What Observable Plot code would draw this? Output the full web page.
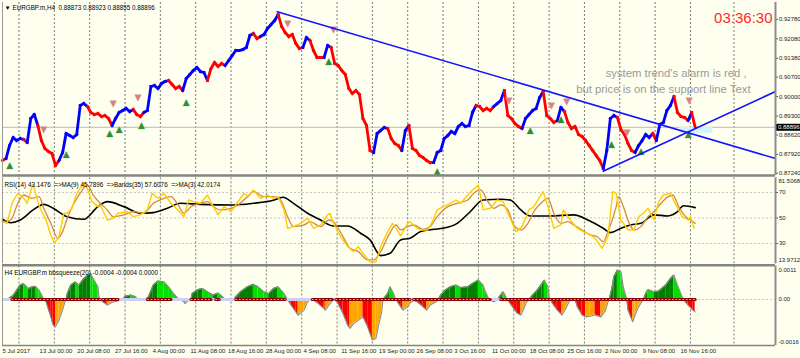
<!DOCTYPE html>
<html><head><meta charset="utf-8">
<script src="https://cdn.jsdelivr.net/npm/d3@7"></script>
<script src="https://cdn.jsdelivr.net/npm/@observablehq/plot@0.6"></script>
<style>
html,body{margin:0;padding:0;background:#fffff0;}
#chart{position:relative;width:800px;height:358px;background:#fffff0;overflow:hidden;}
#chart svg{position:absolute;left:0;overflow:visible;}
</style></head><body><div id="chart"></div>
<script>
// ---------- DATA ----------
// H4 closes, one value every 3 bars (bar index = 3*i)
const closePrices = [0.8770,0.87772,0.8824,0.88528,0.8842,0.88492,0.88456,0.88348,0.89212,0.89356,
0.8896,0.8842,0.88132,0.88024,0.87952,0.8752,0.877,0.87988,0.88672,0.886,
0.88528,0.88636,0.8968,0.89752,0.89644,0.89428,0.89356,0.89392,0.89284,0.8932,
0.89212,0.8896,0.89212,0.89428,0.895,0.89572,0.89464,0.89536,0.89356,0.89284,
0.89428,0.895,0.90364,0.904,0.90292,0.90472,0.90544,0.9058,0.90436,0.90292,
0.90364,0.9022,0.90652,0.90796,0.9094,0.91048,0.90904,0.90868,0.9058,0.91012,
0.91228,0.91084,0.91192,0.9112,0.913,0.9148,0.9166,0.9166,0.91696,0.91768,
0.922,0.92272,0.92092,0.92164,0.92236,0.92452,0.92596,0.9274,0.92956,0.92524,
0.92308,0.92164,0.92236,0.91912,0.91732,0.91768,0.92128,0.9202,0.9166,0.91408,
0.91408,0.91408,0.9184,0.91768,0.91192,0.9112,0.9094,0.90796,0.90292,0.90112,
0.9022,0.90076,0.89212,0.8896,0.8806,0.87988,0.88672,0.8878,0.88888,0.88852,
0.88492,0.88312,0.8824,0.8806,0.8878,0.8896,0.88132,0.8806,0.8788,0.87808,
0.877,0.87628,0.87628,0.87988,0.8806,0.88492,0.886,0.88744,0.88672,0.88924,
0.89032,0.88924,0.8896,0.89428,0.8968,0.89644,0.895,0.89572,0.895,0.89644,
0.89752,0.8986,0.9022,0.8932,0.89212,0.89032,0.88924,0.88852,0.89212,0.89356,
0.895,0.89572,0.89968,0.90184,0.8932,0.89212,0.89068,0.8914,0.89608,0.89464,
0.89068,0.88852,0.88924,0.88636,0.88564,0.8842,0.8824,0.8806,0.8788,0.877,
0.87412,0.8806,0.89212,0.8932,0.89248,0.88816,0.88636,0.88312,0.8806,0.87988,
0.8824,0.8842,0.88636,0.88528,0.88672,0.8842,0.88996,0.89068,0.895,0.8968,
0.90004,0.89428,0.89284,0.89248,0.8914,0.89428,0.88896];
// trend state runs: [state (1 up / -1 down), number of samples]
const trendRuns = [[-1,2],[1,5],[-1,1],[1,3],[-1,6],[1,8],[-1,7],[1,6],[-1,3],[1,7],[-1,4],[1,7],[-1,5],[1,8],[-1,2],[1,5],[-1,7],[1,2],[-1,4],[1,2],[-1,12],[1,4],[-1,4],[1,2],[-1,7],[1,12],[-1,5],[1,3],[-1,5],[1,6],[-1,4],[1,2],[-1,11],[1,4],[-1,5],[1,5],[-1,1],[1,5],[-1,4],[1,1],[-1,1]];

const buyBars = [6,54,91,99,118,156,277,369,448,474,517,542,582];
const buyPrices = [0.8763,0.88024,0.8878,0.88924,0.89068,0.89896,0.91372,0.87412,0.88888,0.89284,0.88384,0.88132,0.88744];
const sellBars = [35,94,115,242,281,430,466,479,530,583];
const sellPrices = [0.88744,0.8968,0.89896,0.9256,0.92344,0.89788,0.8961,0.89752,0.88636,0.89788];

const lineStartBar = [232.6, 509.4];
const lineStartPrice = [0.93064, 0.87304];
const lineEndBar = [656.2, 656.2];
const lineEndPrice = [0.87772, 0.90184];

const zoneBars = [575, 603];
const zonePrices = [0.88888, 0.88672];

const currentPrice = 0.88896;
const priceTicks = [0.92780,0.92080,0.91380,0.90700,0.90000,0.89300,0.88620,0.87920,0.87240];

const noteLines = ["system trend's alarm is red ,", "but price is on the support line Text"];
const noteBars = [512, 487];
const notePrices = [0.9083, 0.9026];
const clockText = "03:36:30";
const mainHeader = "\u25BC EURGBP.m,H4  0.88873 0.88923 0.88855 0.88896";

const gridBars = [14,44,74,104,134,164,194,224,254,284,314,344,374,404,434,464,494,524,554,584,621];
const dateLabels = ["5 Jul 2017","13 Jul 00:00","20 Jul 08:00","27 Jul 16:00","4 Aug 00:00","11 Aug 08:00","18 Aug 16:00","28 Aug 00:00","4 Sep 08:00","11 Sep 16:00","19 Sep 00:00","26 Sep 08:00","3 Oct 16:00","11 Oct 00:00","18 Oct 08:00","25 Oct 16:00","2 Nov 00:00","9 Nov 08:00","16 Nov 16:00"];
const dateBars = [0,31.5,63.5,95.5,127.5,159.5,191.5,223.5,255.5,287.5,319.5,351.5,383.5,415.5,447.5,479.5,511.5,543.5,575.5];

// RSI panel: [bar, value]
const rsiHeader = "RSI(14) 43.1476  =>MA(9) 45.7896  =>Bands(35) 57.6076  =>MA(3) 42.0174";
const rsiRange = [13.9712, 81.5068];
const rsiLevels = [70, 50, 30];
const bandsMid = [[0,49.0],[7,46.3],[15,48.4],[26,56.3],[35,60.7],[43,57.6],[55,51.0],[69,49.0],[81,58.9],[89,62.8],[103,58.9],[117,53.7],[128,54.2],[140,57.6],[151,61.5],[168,60.7],[196,60.2],[213,61.5],[230,63.9],[238,66.2],[247,61.5],[259,53.7],[270,48.4],[281,43.7],[293,43.7],[304,38.0],[312,32.8],[321,20.5],[329,22.3],[338,32.8],[346,34.1],[355,39.3],[366,41.1],[374,41.9],[386,45.8],[397,54.9],[408,64.1],[423,64.7],[431,64.1],[440,56.3],[448,51.6],[465,51.6],[485,52.4],[497,48.4],[510,41.9],[516,38.5],[525,41.9],[533,44.5],[542,45.8],[553,52.4],[565,51.6],[573,54.9],[578,59.6],[588,58.1]];
const ma3 = [[0,47.1],[4,45.8],[8,61.5],[13,69.4],[17,66.7],[21,61.5],[25,74.5],[26,75.9],[30,62.8],[32,57.6],[37,48.4],[41,36.7],[44,30.2],[48,35.3],[52,53.7],[55,53.7],[59,57.6],[62,66.7],[65,72],[69,77.2],[72,73.3],[76,62.8],[81,58.9],[83,60.2],[89,48.4],[94,49.8],[98,53.7],[106,54.9],[111,51],[117,52.4],[123,56.3],[127,69.4],[132,65.4],[137,69.4],[143,61.5],[149,56.3],[154,51],[158,64.1],[162,62.8],[168,61.5],[174,68],[179,58.9],[183,52.4],[188,58.9],[194,54.9],[200,62.8],[205,69.4],[209,66.7],[213,72],[219,65.4],[225,68],[230,65.4],[234,66.7],[239,56.3],[242,41.9],[247,43.2],[253,45.8],[259,49.8],[264,41.9],[270,44.5],[276,52.4],[278,53.7],[281,45.8],[287,35.3],[293,27.5],[298,23.6],[302,27.5],[306,22.3],[312,15.5],[317,15.7],[321,27.5],[327,39.3],[331,45.8],[335,40.6],[338,36],[344,45.8],[346,47.1],[352,41.9],[355,40.6],[361,40.6],[365,47.1],[369,56.3],[374,58.9],[380,61.5],[385,64.1],[389,61.5],[395,68],[399,72],[404,75.9],[408,56.3],[414,57.6],[420,64.1],[425,62.8],[429,53.7],[436,39.3],[441,43.2],[447,56.3],[451,58.9],[457,68],[459,70.6],[463,58.9],[468,41.9],[474,44.5],[476,56.3],[482,48.4],[488,41.9],[493,39.3],[499,36.7],[503,34.1],[509,26.2],[514,35.3],[518,70.6],[521,69.4],[525,48.4],[531,40.6],[536,40.6],[540,51],[544,53.7],[548,57.6],[553,48.4],[557,62.8],[561,68],[567,69.4],[571,61.5],[577,51],[582,48.4],[584,51],[587,41.9]];
const ma9 = [[0,47.1],[7,48.4],[13,61.5],[18,68],[25,65.4],[31,66.7],[35,57.6],[41,45.8],[47,34.1],[51,39.3],[55,49.8],[60,60.2],[66,69.4],[72,75.9],[77,68],[83,61.5],[89,56.3],[94,51],[103,52.4],[111,54.9],[120,53.7],[128,61.5],[137,65.4],[143,66.7],[149,60.2],[154,53.7],[160,58.9],[168,61.5],[174,62.8],[179,58.9],[185,56.3],[194,57.6],[200,60.2],[208,66.7],[213,70.6],[222,66.7],[230,66.7],[236,64.1],[242,51],[247,43.2],[256,44.5],[261,47.1],[270,43.2],[277,48.4],[281,47.1],[289,35.3],[295,26.2],[302,23.6],[310,17.1],[315,17.1],[321,23.6],[328,36.7],[334,44.5],[338,40.6],[344,43.2],[349,44.5],[357,41.1],[363,43.2],[369,51],[378,58.9],[386,61.5],[395,64.1],[400,69.4],[406,72],[412,62.8],[417,57.6],[423,60.2],[429,56.3],[434,44.5],[440,40.6],[446,45.8],[451,54.9],[457,61.5],[463,65.4],[468,53.7],[474,45.8],[480,47.1],[485,44.5],[492,40.6],[499,36.7],[505,35.3],[510,31.4],[514,39.3],[521,58.9],[523,66.7],[527,58.9],[532,45.8],[536,40.6],[542,43.2],[548,51],[553,54.9],[559,61.5],[565,66.7],[569,68],[574,58.9],[580,51],[584,48.4],[588,45.8]];

// bbsqueeze panel: histogram envelope [bar, value]
const sqHeader = "H4 EURGBP.m bbsqueeze(20) -0.0004 -0.0004 0.0000";
const sqRange = [-0.001564, 0.001139];
const sqLabels = ["0.0011", "0.00", "-0.0016"];
const sqHist = [[4,0],[9,0.00014],[15,0.00049],[18,0.00054],[22,0.00037],[25,0.00043],[28,0.00045],[31,0.00032],[34,0.00009],[35,0],[37,-0.00008],[41,-0.00059],[43,-0.00087],[45,-0.00093],[48,-0.0007],[51,-0.00036],[53,-0.00008],[54,0],[55,0.0002],[58,0.00049],[62,0.0006],[65,0.00049],[68,0.00066],[72,0.00083],[75,0.00088],[77,0.00071],[81,0.00043],[82,0.00009],[83,0],[85,-0.00008],[89,-0.00019],[92,-0.00012],[94,-0.00008],[98,-0.00005],[102,0],[104,0.00011],[109,0.00015],[113,0.00009],[115,0],[121,0],[124,0.00009],[128,0.00049],[132,0.00063],[137,0.0006],[141,0.00043],[145,0.00022],[149,0.00003],[154,-0.00008],[155,-0.00014],[158,-0.00002],[160,0],[161,0.0002],[166,0.00034],[170,0.00037],[175,0.00024],[179,0.00015],[183,0.00022],[187,0.00009],[189,0],[196,0],[198,0.00009],[202,0.00026],[208,0.00043],[213,0.00052],[217,0.00043],[222,0.00026],[226,0.0002],[230,0.00037],[234,0.00043],[239,0.0002],[242,0],[245,-0.00019],[249,-0.00042],[251,-0.00053],[256,-0.00036],[259,-0.00008],[261,0],[264,-0.00002],[268,-0.00014],[273,-0.00031],[274,-0.00036],[278,-0.00014],[281,0],[284,-0.00008],[289,-0.00047],[293,-0.00087],[295,-0.00098],[298,-0.00082],[302,-0.00071],[306,-0.00059],[310,-0.00093],[314,-0.00138],[317,-0.00132],[319,-0.00093],[322,-0.0004],[323,0],[327,0.0002],[329,0.00043],[332,0.0002],[334,0],[338,-0.00025],[340,-0.00036],[344,-0.00025],[346,-0.00012],[349,-0.00003],[352,-0.00008],[357,-0.00025],[360,-0.00036],[363,-0.00019],[368,-0.00008],[370,0],[372,0.00015],[376,0.00032],[380,0.00043],[385,0.00049],[389,0.00041],[395,0.00043],[399,0.00054],[404,0.00066],[408,0.00049],[410,0.00026],[413,0],[417,-0.00008],[420,0],[425,0.00026],[426,0.0002],[428,0.00003],[430,-0.00008],[434,-0.00031],[437,-0.00047],[440,-0.00053],[442,-0.00036],[445,-0.00008],[447,0],[450,0.00015],[454,0.00032],[458,0.00054],[460,0.00066],[463,0.00043],[464,0.00009],[465,0],[467,-0.00014],[471,-0.00036],[475,-0.00053],[478,-0.00031],[481,-0.00008],[482,0.00003],[486,0],[488,-0.00025],[492,-0.00053],[495,-0.00059],[499,-0.00057],[503,-0.00053],[508,-0.00059],[512,-0.00036],[514,-0.00008],[515,0],[517,0.00032],[519,0.00077],[522,0.001],[525,0.00094],[527,0.00043],[530,0],[531,-0.00036],[535,-0.00076],[537,-0.00053],[540,-0.00025],[543,-0.00005],[544,0],[546,0.0002],[548,0.00034],[553,0.00026],[557,0.00029],[563,0.00049],[567,0.00071],[570,0.00083],[573,0.00049],[577,0.00009],[578,0],[582,-0.00019],[586,-0.00036],[588,-0.00042]];
const squeezeOn = [[8,83],[85,98],[123,143],[160,177],[181,184],[198,240],[263,280],[283,346],[349,369],[370,414],[423,425],[426,588]];
const squeezeSpan = [0, 588];

// ---------- DRAWING ----------
const xMax = 656.2;
const narrow = '"Liberation Sans Narrow","Liberation Sans",Arial,sans-serif';
const chart = document.getElementById("chart");
const common = {width: 800, marginLeft: 2, marginRight: 25, x: {domain: [0, xMax], axis: null}, color: {type: "identity"}};
const baseStyle = {background: "transparent", fontFamily: narrow, fontSize: "6px", color: "#000", overflow: "visible"};
function place(svg, top) { svg.style.top = top + "px"; chart.appendChild(svg); }
const rightLabel = (value, label, dy) => Plot.text([value], {frameAnchor: "right", y: d => d, text: () => label, textAnchor: "start", dx: 3, dy, fill: "#222"});

const trend = trendRuns.flatMap(([t, n]) => Array(n).fill(t));
const pts = closePrices.map((p, i) => ({bar: i * 3, price: p, t: trend[i]}));
const segs = pts.slice(1).map((p, i) => ({x1: pts[i].bar, y1: pts[i].price, x2: p.bar, y2: p.price, c: p.t > 0 ? "#0000ff" : "#ff0000"}));
const tlines = lineStartBar.map((b, i) => ({x1: b, y1: lineStartPrice[i], x2: lineEndBar[i], y2: lineEndPrice[i]}));
const mainDomain = [0.8716, 0.93388];

const main = Plot.plot({
  ...common, height: 177, marginTop: 2, marginBottom: 2,
  y: {domain: mainDomain, axis: null},
  style: baseStyle,
  marks: [
    Plot.ruleX(gridBars, {stroke: "#6a6a6a", strokeDasharray: "2,2", strokeWidth: 0.9}),
    Plot.ruleY([currentPrice], {stroke: "#b8b8b8", strokeWidth: 1}),
    Plot.rect([{a: zoneBars[0], b: zoneBars[1], c: zonePrices[0], d: zonePrices[1]}], {x1: "a", x2: "b", y1: "c", y2: "d", fill: "#d4f1ff"}),
    Plot.link(segs, {x1: "x1", y1: "y1", x2: "x2", y2: "y2", stroke: "c", strokeWidth: 2.8, strokeLinecap: "square"}),
    Plot.text(buyBars, {x: d => d, y: (d, i) => buyPrices[i], text: () => "\u25B2", fill: "#2f8f2f", stroke: "#9bd39b", strokeWidth: 0.6, fontSize: 11, dy: 3}),
    Plot.text(sellBars, {x: d => d, y: (d, i) => sellPrices[i], text: () => "\u25BC", fill: "#d48282", stroke: "#ebbcbc", strokeWidth: 0.6, fontSize: 11, dy: -2}),
    Plot.link(tlines, {x1: "x1", y1: "y1", x2: "x2", y2: "y2", stroke: "#1414ff", strokeWidth: 1.6}),
    Plot.text(noteLines, {x: (d, i) => noteBars[i], y: (d, i) => notePrices[i], text: d => d, textAnchor: "start", fill: "#9a9a9a", fontSize: 11.3, fontFamily: '"Liberation Sans",Arial,sans-serif'}),
    Plot.text([clockText], {frameAnchor: "top-right", text: d => d, fill: "#ff2a2a", fontSize: 15, dx: -3, dy: 10, fontFamily: '"Liberation Sans",Arial,sans-serif'}),
    Plot.text([mainHeader], {frameAnchor: "top-left", text: d => d, fill: "#000", fontSize: 6.3, dx: 2, dy: 3.5, textAnchor: "start"}),
    Plot.axisY({anchor: "right", ticks: priceTicks, tickFormat: d => d.toFixed(5), tickSize: 2, tickPadding: 1.5, stroke: "#555", fill: "#222"}),
    Plot.ruleY([currentPrice], {x1: xMax + 0.6, x2: xMax + 21.5, stroke: "#000", strokeWidth: 7}),
    Plot.text([currentPrice], {frameAnchor: "right", y: d => d, text: d => d.toFixed(5), textAnchor: "start", dx: 2.5, fill: "#fff"}),
    Plot.ruleY([mainDomain[0]], {stroke: "#858585", strokeWidth: 2.6}),
    Plot.ruleX([xMax], {stroke: "#8c8c8c", strokeWidth: 2}),
    Plot.ruleX([0], {stroke: "#9a9a9a", strokeWidth: 1})
  ]
});
place(main, 0);

const rsi = Plot.plot({
  ...common, height: 88, marginTop: 1.3, marginBottom: 0.6,
  y: {domain: rsiRange, axis: null},
  style: baseStyle,
  marks: [
    Plot.ruleY(rsiLevels, {stroke: "#c8c8c8", strokeDasharray: "2,2"}),
    Plot.ruleX(gridBars, {stroke: "#6a6a6a", strokeDasharray: "2,2", strokeWidth: 0.9}),
    Plot.line(bandsMid, {x: d => d[0], y: d => d[1], stroke: "#000", strokeWidth: 1.6, curve: "monotone-x"}),
    Plot.line(ma9, {x: d => d[0], y: d => d[1], stroke: "#d08a44", strokeWidth: 1.3, curve: "monotone-x"}),
    Plot.line(ma3, {x: d => d[0], y: d => d[1], stroke: "#ffcc00", strokeWidth: 1.4}),
    Plot.text([rsiHeader], {frameAnchor: "top-left", text: d => d, fontSize: 6.3, dx: 2, dy: 5, textAnchor: "start", fill: "#000"}),
    Plot.axisY({anchor: "right", ticks: rsiLevels, tickFormat: d => String(d), tickSize: 2, tickPadding: 1.5, stroke: "#555", fill: "#222"}),
    rightLabel(rsiRange[1], rsiRange[1].toFixed(4), 3.5),
    rightLabel(rsiRange[0], rsiRange[0].toFixed(4), -4),
    Plot.ruleY([rsiRange[0]], {stroke: "#858585", strokeWidth: 2.4, dy: 1.4}),
    Plot.ruleX([xMax], {stroke: "#8c8c8c", strokeWidth: 2}),
    Plot.ruleX([0], {stroke: "#9a9a9a", strokeWidth: 1})
  ]
});
place(rsi, 176);

// histogram segments coloured by direction
const hsegs = [];
for (let i = 1; i < sqHist.length; i++) {
  const a = sqHist[i - 1], b = sqHist[i];
  const mid = (a[1] + b[1]) / 2;
  const c = mid >= 0 ? (b[1] >= a[1] ? "#008000" : "#00e100") : (b[1] <= a[1] ? "#ff0000" : "#ffa500");
  hsegs.push({s: i, x: a[0], v: a[1], c}, {s: i, x: b[0], v: b[1], c});
}
const sqOnPts = squeezeOn.flatMap((r, i) => [{s: i, x: r[0]}, {s: i, x: r[1]}]);

const sq = Plot.plot({
  ...common, height: 94, marginTop: 1.5, marginBottom: 13,
  y: {domain: sqRange, axis: null},
  style: baseStyle,
  marks: [
    Plot.ruleY([0], {stroke: "#c8c8c8", strokeDasharray: "2,2"}),
    Plot.ruleX(gridBars, {stroke: "#6a6a6a", strokeDasharray: "2,2", strokeWidth: 0.9}),
    Plot.area(hsegs, {x1: "x", y1: () => 0, y2: "v", z: "s", fill: "c"}),
    Plot.line(sqHist, {x: d => d[0], y: d => d[1], stroke: "#8a8a8a", strokeWidth: 1.1}),
    Plot.ruleY([0], {x1: squeezeSpan[0], x2: squeezeSpan[1], stroke: "#cfcff2", strokeWidth: 3}),
    Plot.line(sqOnPts, {x: "x", y: () => 0, z: "s", stroke: "#8b0000", strokeWidth: 3}),
    Plot.line(sqOnPts, {x: "x", y: () => 0, z: "s", stroke: "#f0a0a0", strokeWidth: 1, strokeDasharray: "1,2.5"}),
    Plot.text([sqHeader], {frameAnchor: "top-left", text: d => d, fontSize: 6.3, dx: 2, dy: 5, textAnchor: "start", fill: "#000"}),
    rightLabel(sqRange[1], sqLabels[0], 4),
    rightLabel(0, sqLabels[1], 0),
    rightLabel(sqRange[0], sqLabels[2], -3),
    Plot.text(dateLabels, {x: (d, i) => dateBars[i], frameAnchor: "bottom", text: d => d, textAnchor: "start", dy: 7.5, fill: "#222"}),
    Plot.ruleY([sqRange[0]], {stroke: "#858585", strokeWidth: 1.5}),
    Plot.ruleX([xMax], {stroke: "#8c8c8c", strokeWidth: 2}),
    Plot.ruleX([0], {stroke: "#9a9a9a", strokeWidth: 1})
  ]
});
place(sq, 264);
</script></body></html>
